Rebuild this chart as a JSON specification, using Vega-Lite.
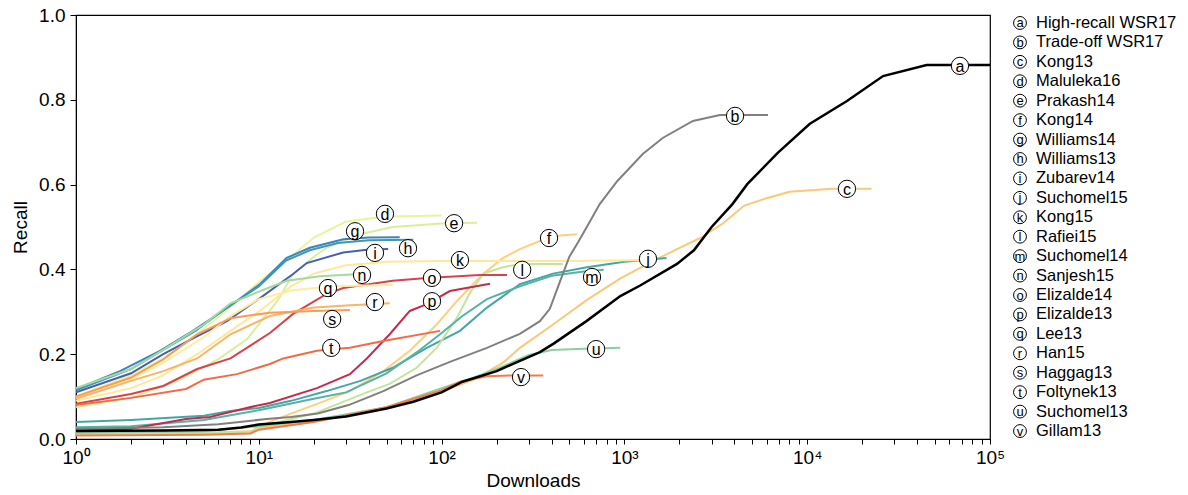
{
  "$schema": "https://vega.github.io/schema/vega-lite/v6.json",
  "padding": {"left": 10, "top": 5, "right": 5, "bottom": 5},
  "bounds": "flush",
  "spacing": 22,
  "config": {
    "font": "Liberation Sans",
    "axis": {"domainColor": "black", "tickColor": "black", "labelColor": "black", "titleColor": "black", "titleFontWeight": "normal", "labelFontSize": 19, "titleFontSize": 19, "grid": false, "labelFont": "Liberation Sans", "titleFont": "Liberation Sans"},
    "view": {"stroke": "black", "strokeWidth": 1.2}
  },
  "datasets": {
    "curves": [
      {"id":"a","x":1,"y":0.019},{"id":"a","x":3,"y":0.02},{"id":"a","x":6,"y":0.022},{"id":"a","x":8,"y":0.027},{"id":"a","x":10,"y":0.034},{"id":"a","x":15,"y":0.04},{"id":"a","x":20,"y":0.045},{"id":"a","x":30,"y":0.053},{"id":"a","x":50,"y":0.072},{"id":"a","x":70,"y":0.088},{"id":"a","x":100,"y":0.11},{"id":"a","x":130,"y":0.135},{"id":"a","x":200,"y":0.16},{"id":"a","x":270,"y":0.185},{"id":"a","x":345,"y":0.205},{"id":"a","x":410,"y":0.225},{"id":"a","x":620,"y":0.278},{"id":"a","x":950,"y":0.337},{"id":"a","x":1220,"y":0.362},{"id":"a","x":1940,"y":0.413},{"id":"a","x":2400,"y":0.445},{"id":"a","x":3000,"y":0.5},{"id":"a","x":3900,"y":0.554},{"id":"a","x":4700,"y":0.601},{"id":"a","x":6900,"y":0.675},{"id":"a","x":10300,"y":0.743},{"id":"a","x":16500,"y":0.797},{"id":"a","x":26000,"y":0.856},{"id":"a","x":45000,"y":0.882},{"id":"a","x":100000,"y":0.882},
      {"id":"b","x":1,"y":0.024},{"id":"b","x":3,"y":0.028},{"id":"b","x":6,"y":0.035},{"id":"b","x":11,"y":0.047},{"id":"b","x":15,"y":0.052},{"id":"b","x":21,"y":0.06},{"id":"b","x":31,"y":0.08},{"id":"b","x":48,"y":0.113},{"id":"b","x":73,"y":0.15},{"id":"b","x":111,"y":0.182},{"id":"b","x":177,"y":0.215},{"id":"b","x":268,"y":0.248},{"id":"b","x":345,"y":0.278},{"id":"b","x":391,"y":0.307},{"id":"b","x":443,"y":0.37},{"id":"b","x":500,"y":0.43},{"id":"b","x":560,"y":0.465},{"id":"b","x":650,"y":0.514},{"id":"b","x":733,"y":0.554},{"id":"b","x":913,"y":0.608},{"id":"b","x":1260,"y":0.672},{"id":"b","x":1620,"y":0.71},{"id":"b","x":2370,"y":0.75},{"id":"b","x":3330,"y":0.764},{"id":"b","x":6100,"y":0.764},
      {"id":"c","x":1,"y":0.012},{"id":"c","x":5,"y":0.015},{"id":"c","x":9,"y":0.018},{"id":"c","x":10,"y":0.026},{"id":"c","x":20,"y":0.042},{"id":"c","x":50,"y":0.075},{"id":"c","x":100,"y":0.112},{"id":"c","x":150,"y":0.14},{"id":"c","x":217,"y":0.18},{"id":"c","x":268,"y":0.215},{"id":"c","x":407,"y":0.27},{"id":"c","x":624,"y":0.328},{"id":"c","x":946,"y":0.378},{"id":"c","x":1440,"y":0.42},{"id":"c","x":1940,"y":0.448},{"id":"c","x":2600,"y":0.474},{"id":"c","x":3500,"y":0.51},{"id":"c","x":4500,"y":0.55},{"id":"c","x":6000,"y":0.568},{"id":"c","x":8000,"y":0.583},{"id":"c","x":13700,"y":0.59},{"id":"c","x":22500,"y":0.59},
      {"id":"d","x":1,"y":0.1},{"id":"d","x":2,"y":0.15},{"id":"d","x":3,"y":0.19},{"id":"d","x":5,"y":0.26},{"id":"d","x":7,"y":0.31},{"id":"d","x":10,"y":0.37},{"id":"d","x":15,"y":0.43},{"id":"d","x":20,"y":0.475},{"id":"d","x":30,"y":0.513},{"id":"d","x":50,"y":0.525},{"id":"d","x":100,"y":0.527},
      {"id":"e","x":1,"y":0.075},{"id":"e","x":2,"y":0.097},{"id":"e","x":3.6,"y":0.137},{"id":"e","x":6.1,"y":0.19},{"id":"e","x":8.6,"y":0.235},{"id":"e","x":12.6,"y":0.325},{"id":"e","x":15.4,"y":0.389},{"id":"e","x":20,"y":0.43},{"id":"e","x":23.5,"y":0.451},{"id":"e","x":35.8,"y":0.483},{"id":"e","x":54,"y":0.5},{"id":"e","x":100,"y":0.508},{"id":"e","x":156,"y":0.51},
      {"id":"f","x":1,"y":0.01},{"id":"f","x":5,"y":0.013},{"id":"f","x":9,"y":0.016},{"id":"f","x":10,"y":0.03},{"id":"f","x":15,"y":0.06},{"id":"f","x":20,"y":0.08},{"id":"f","x":31.5,"y":0.113},{"id":"f","x":48,"y":0.16},{"id":"f","x":67,"y":0.208},{"id":"f","x":94,"y":0.27},{"id":"f","x":121,"y":0.325},{"id":"f","x":169,"y":0.39},{"id":"f","x":217,"y":0.427},{"id":"f","x":268,"y":0.448},{"id":"f","x":345,"y":0.467},{"id":"f","x":443,"y":0.48},{"id":"f","x":550,"y":0.483},
      {"id":"g","x":1,"y":0.118},{"id":"g","x":1.74,"y":0.16},{"id":"g","x":2.88,"y":0.208},{"id":"g","x":4.36,"y":0.255},{"id":"g","x":6.7,"y":0.309},{"id":"g","x":10.2,"y":0.366},{"id":"g","x":14.2,"y":0.427},{"id":"g","x":19,"y":0.451},{"id":"g","x":29,"y":0.471},{"id":"g","x":40,"y":0.475},{"id":"g","x":59,"y":0.476},
      {"id":"h","x":1,"y":0.115},{"id":"h","x":2,"y":0.165},{"id":"h","x":3,"y":0.21},{"id":"h","x":4.5,"y":0.255},{"id":"h","x":6.7,"y":0.31},{"id":"h","x":10,"y":0.36},{"id":"h","x":14,"y":0.42},{"id":"h","x":19,"y":0.445},{"id":"h","x":27,"y":0.462},{"id":"h","x":40,"y":0.469},{"id":"h","x":70,"y":0.47},
      {"id":"i","x":1,"y":0.11},{"id":"i","x":2,"y":0.155},{"id":"i","x":3,"y":0.2},{"id":"i","x":4.5,"y":0.24},{"id":"i","x":6.7,"y":0.278},{"id":"i","x":10.2,"y":0.333},{"id":"i","x":15.4,"y":0.389},{"id":"i","x":18.3,"y":0.415},{"id":"i","x":29,"y":0.44},{"id":"i","x":40,"y":0.447},{"id":"i","x":51,"y":0.448},
      {"id":"j","x":1,"y":0.04},{"id":"j","x":2,"y":0.045},{"id":"j","x":5,"y":0.055},{"id":"j","x":7,"y":0.066},{"id":"j","x":10,"y":0.073},{"id":"j","x":15,"y":0.09},{"id":"j","x":23.5,"y":0.113},{"id":"j","x":36,"y":0.137},{"id":"j","x":54,"y":0.168},{"id":"j","x":83,"y":0.215},{"id":"j","x":126,"y":0.255},{"id":"j","x":177,"y":0.31},{"id":"j","x":268,"y":0.365},{"id":"j","x":407,"y":0.39},{"id":"j","x":624,"y":0.405},{"id":"j","x":1000,"y":0.418},{"id":"j","x":1700,"y":0.427},
      {"id":"k","x":1,"y":0.09},{"id":"k","x":2,"y":0.12},{"id":"k","x":3,"y":0.15},{"id":"k","x":4.6,"y":0.2},{"id":"k","x":7,"y":0.255},{"id":"k","x":10,"y":0.3},{"id":"k","x":15,"y":0.36},{"id":"k","x":20,"y":0.39},{"id":"k","x":30,"y":0.41},{"id":"k","x":50,"y":0.418},{"id":"k","x":100,"y":0.42},{"id":"k","x":500,"y":0.42},{"id":"k","x":1500,"y":0.422},
      {"id":"l","x":1,"y":0.012},{"id":"l","x":5,"y":0.014},{"id":"l","x":9,"y":0.017},{"id":"l","x":10,"y":0.028},{"id":"l","x":20,"y":0.06},{"id":"l","x":39,"y":0.11},{"id":"l","x":52,"y":0.13},{"id":"l","x":73,"y":0.168},{"id":"l","x":94,"y":0.215},{"id":"l","x":121,"y":0.285},{"id":"l","x":143,"y":0.345},{"id":"l","x":169,"y":0.39},{"id":"l","x":217,"y":0.405},{"id":"l","x":268,"y":0.413},{"id":"l","x":460,"y":0.413},
      {"id":"m","x":1,"y":0.028},{"id":"m","x":2,"y":0.03},{"id":"m","x":5,"y":0.045},{"id":"m","x":10,"y":0.068},{"id":"m","x":20,"y":0.095},{"id":"m","x":30,"y":0.11},{"id":"m","x":50,"y":0.155},{"id":"m","x":76,"y":0.21},{"id":"m","x":100,"y":0.25},{"id":"m","x":130,"y":0.29},{"id":"m","x":177,"y":0.33},{"id":"m","x":268,"y":0.36},{"id":"m","x":400,"y":0.385},{"id":"m","x":600,"y":0.395},{"id":"m","x":770,"y":0.399},
      {"id":"n","x":1,"y":0.12},{"id":"n","x":2,"y":0.165},{"id":"n","x":3,"y":0.21},{"id":"n","x":5,"y":0.27},{"id":"n","x":7,"y":0.32},{"id":"n","x":10.2,"y":0.349},{"id":"n","x":14.2,"y":0.373},{"id":"n","x":21.6,"y":0.384},{"id":"n","x":36,"y":0.389},
      {"id":"o","x":1,"y":0.083},{"id":"o","x":2,"y":0.106},{"id":"o","x":3,"y":0.125},{"id":"o","x":4.6,"y":0.165},{"id":"o","x":7,"y":0.19},{"id":"o","x":11.5,"y":0.25},{"id":"o","x":15.4,"y":0.295},{"id":"o","x":23.5,"y":0.342},{"id":"o","x":29,"y":0.356},{"id":"o","x":54,"y":0.373},{"id":"o","x":83,"y":0.38},{"id":"o","x":162,"y":0.387},{"id":"o","x":228,"y":0.387},
      {"id":"p","x":1,"y":0.02},{"id":"p","x":2,"y":0.024},{"id":"p","x":4,"y":0.047},{"id":"p","x":5.4,"y":0.052},{"id":"p","x":8.9,"y":0.075},{"id":"p","x":11.5,"y":0.085},{"id":"p","x":20.8,"y":0.12},{"id":"p","x":31.5,"y":0.153},{"id":"p","x":39,"y":0.19},{"id":"p","x":52,"y":0.247},{"id":"p","x":67,"y":0.302},{"id":"p","x":83,"y":0.318},{"id":"p","x":111,"y":0.349},{"id":"p","x":184,"y":0.366},
      {"id":"q","x":1,"y":0.097},{"id":"q","x":2,"y":0.14},{"id":"q","x":3,"y":0.18},{"id":"q","x":5,"y":0.24},{"id":"q","x":7,"y":0.29},{"id":"q","x":10,"y":0.33},{"id":"q","x":15,"y":0.35},{"id":"q","x":25,"y":0.36},{"id":"q","x":54,"y":0.363},
      {"id":"r","x":1,"y":0.095},{"id":"r","x":2,"y":0.137},{"id":"r","x":3,"y":0.16},{"id":"r","x":4.6,"y":0.19},{"id":"r","x":7,"y":0.247},{"id":"r","x":11.5,"y":0.29},{"id":"r","x":20,"y":0.31},{"id":"r","x":30,"y":0.315},{"id":"r","x":52,"y":0.32},
      {"id":"s","x":1,"y":0.1},{"id":"s","x":2,"y":0.145},{"id":"s","x":3,"y":0.188},{"id":"s","x":4.6,"y":0.247},{"id":"s","x":7,"y":0.285},{"id":"s","x":11.5,"y":0.298},{"id":"s","x":20,"y":0.302},{"id":"s","x":31.5,"y":0.304},
      {"id":"t","x":1,"y":0.08},{"id":"t","x":2,"y":0.097},{"id":"t","x":4,"y":0.118},{"id":"t","x":5,"y":0.14},{"id":"t","x":7.6,"y":0.153},{"id":"t","x":11.5,"y":0.177},{"id":"t","x":13.6,"y":0.19},{"id":"t","x":20.8,"y":0.208},{"id":"t","x":31.5,"y":0.215},{"id":"t","x":48,"y":0.231},{"id":"t","x":98,"y":0.255},
      {"id":"u","x":1,"y":0.015},{"id":"u","x":5,"y":0.018},{"id":"u","x":10,"y":0.03},{"id":"u","x":20,"y":0.045},{"id":"u","x":50,"y":0.075},{"id":"u","x":100,"y":0.12},{"id":"u","x":150,"y":0.145},{"id":"u","x":200,"y":0.165},{"id":"u","x":300,"y":0.198},{"id":"u","x":400,"y":0.21},{"id":"u","x":600,"y":0.213},{"id":"u","x":950,"y":0.215},
      {"id":"v","x":1,"y":0.008},{"id":"v","x":5,"y":0.01},{"id":"v","x":9,"y":0.013},{"id":"v","x":10,"y":0.022},{"id":"v","x":20,"y":0.04},{"id":"v","x":50,"y":0.075},{"id":"v","x":100,"y":0.115},{"id":"v","x":126,"y":0.135},{"id":"v","x":177,"y":0.148},{"id":"v","x":250,"y":0.15},{"id":"v","x":360,"y":0.15}
    ],
    "labels": [
      {"id":"a","x":68500,"y":0.88,"name":"High-recall WSR17"},
      {"id":"b","x":4030,"y":0.762,"name":"Trade-off WSR17"},
      {"id":"c","x":16500,"y":0.59,"name":"Kong13"},
      {"id":"d","x":49,"y":0.531,"name":"Maluleka16"},
      {"id":"e","x":117,"y":0.509,"name":"Prakash14"},
      {"id":"f","x":387,"y":0.474,"name":"Kong14"},
      {"id":"g","x":33.6,"y":0.49,"name":"Williams14"},
      {"id":"h","x":65.5,"y":0.45,"name":"Williams13"},
      {"id":"i","x":43.2,"y":0.439,"name":"Zubarev14"},
      {"id":"j","x":1346,"y":0.425,"name":"Suchomel15"},
      {"id":"k","x":126,"y":0.422,"name":"Kong15"},
      {"id":"l","x":276,"y":0.399,"name":"Rafiei15"},
      {"id":"m","x":665,"y":0.382,"name":"Suchomel14"},
      {"id":"n","x":36.7,"y":0.387,"name":"Sanjesh15"},
      {"id":"o","x":88.6,"y":0.38,"name":"Elizalde14"},
      {"id":"p","x":88.6,"y":0.325,"name":"Elizalde13"},
      {"id":"q","x":23.9,"y":0.356,"name":"Lee13"},
      {"id":"r","x":43.2,"y":0.323,"name":"Han15"},
      {"id":"s","x":25.2,"y":0.283,"name":"Haggag13"},
      {"id":"t","x":24.9,"y":0.215,"name":"Foltynek13"},
      {"id":"u","x":700,"y":0.212,"name":"Suchomel13"},
      {"id":"v","x":272,"y":0.146,"name":"Gillam13"}
    ]
  },
  "hconcat": [
    {
      "width": 914,
      "height": 424,
      "encoding": {
        "x": {"field": "x", "type": "quantitative", "scale": {"type": "log", "domain": [1, 100000], "nice": false},
          "axis": {"title": "Downloads", "values": [1,2,3,4,5,6,7,8,9,10,20,30,40,50,60,70,80,90,100,200,300,400,500,600,700,800,900,1000,2000,3000,4000,5000,6000,7000,8000,9000,10000,20000,30000,40000,50000,60000,70000,80000,90000,100000],
            "labelExpr": "datum.value == 1 ? '10⁰' : datum.value == 10 ? '10¹' : datum.value == 100 ? '10²' : datum.value == 1000 ? '10³' : datum.value == 10000 ? '10⁴' : datum.value == 100000 ? '10⁵' : ''",
            "tickSize": 5, "labelPadding": 4, "titlePadding": 4, "labelOverlap": false, "labelBound": false, "labelFlush": false}},
        "y": {"field": "y", "type": "quantitative", "scale": {"domain": [0, 1], "nice": false},
          "axis": {"title": "Recall", "values": [0, 0.2, 0.4, 0.6, 0.8, 1], "format": ".1f", "tickSize": 6, "labelPadding": 5, "titlePadding": 8}}
      },
      "layer": [
        {"data": {"name": "curves"}, "transform": [{"filter": "datum.id != 'a' && datum.id != 'b'"}],
         "mark": {"type": "line", "strokeWidth": 2, "clip": true},
         "encoding": {"color": {"field": "id", "type": "nominal", "legend": null,
           "scale": {"domain": ["a","b","c","d","e","f","g","h","i","j","k","l","m","n","o","p","q","r","s","t","u","v"],
             "range": ["#000000","#808080","#fdc876","#e9f59d","#d8ef9b","#fed07e","#3a86bc","#3f97b7","#4860ab","#45a6a6","#fee99a","#c2e59a","#55b3a5","#a5d9a2","#d8424d","#c62a4c","#feec9f","#fdb366","#f99c57","#f26b45","#8ccfa3","#f47c4b"]}}}},
        {"data": {"name": "curves"}, "transform": [{"filter": "datum.id == 'b'"}],
         "mark": {"type": "line", "strokeWidth": 2, "color": "#808080", "clip": true}, "encoding": {}},
        {"data": {"name": "curves"}, "transform": [{"filter": "datum.id == 'a'"}],
         "mark": {"type": "line", "strokeWidth": 2.5, "color": "#000000", "clip": true}, "encoding": {}},
        {"data": {"name": "labels"},
         "mark": {"type": "point", "shape": "circle", "filled": true, "fill": "white", "stroke": "black", "strokeWidth": 1, "size": 300, "opacity": 1}},
        {"data": {"name": "labels"},
         "mark": {"type": "text", "fontSize": 16, "baseline": "middle", "align": "center", "color": "black", "dy": 1},
         "encoding": {"text": {"field": "id"}}}
      ]
    },
    {
      "width": 16,
      "height": 424,
      "view": {"stroke": null},
      "data": {"name": "labels"},
      "encoding": {"y": {"field": "id", "type": "ordinal", "scale": {"type": "point", "padding": 0.41}, "axis": null}},
      "layer": [
        {"mark": {"type": "point", "shape": "circle", "filled": true, "fill": "white", "stroke": "black", "strokeWidth": 1, "size": 165, "opacity": 1}},
        {"mark": {"type": "text", "fontSize": 13, "baseline": "middle", "align": "center", "color": "black", "dy": 0.5}, "encoding": {"text": {"field": "id"}}},
        {"mark": {"type": "text", "fontSize": 16.5, "baseline": "middle", "align": "left", "dx": 16, "color": "black"}, "encoding": {"text": {"field": "name"}}}
      ]
    }
  ]
}
